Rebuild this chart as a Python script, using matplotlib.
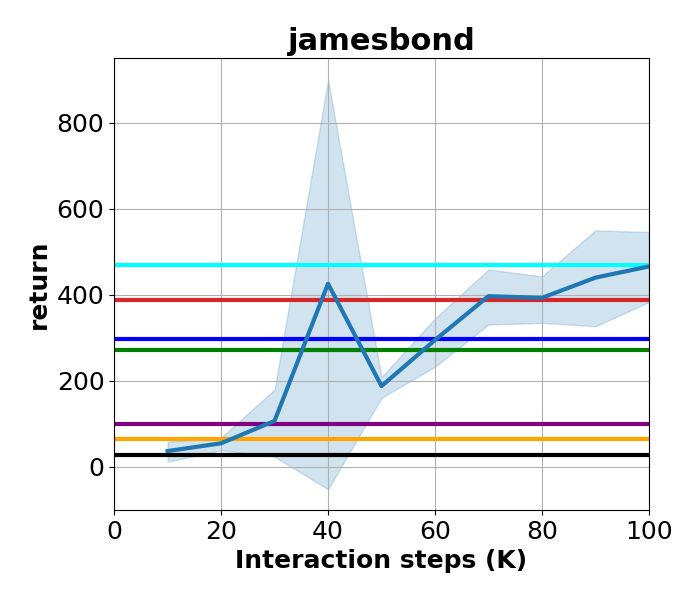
import numpy as np
import matplotlib
matplotlib.use("Agg")
import matplotlib.pyplot as plt

# Learning curve (mean and band)
steps = [10, 20, 30, 40, 50, 60, 70, 80, 90, 100]
mean_return = [37, 55, 107, 426, 188, 295, 397, 393, 440, 466]
lower_return = [12, 39, 24, -52, 161, 233, 331, 335, 327, 383]
upper_return = [59, 68, 180, 899, 209, 345, 459, 443, 550, 546]

# Baselines
baseline_values = [470, 389, 298, 271, 99, 64, 27]
baseline_colors = ["cyan", "tab:red", "blue", "green", "purple", "orange", "black"]

fig = plt.figure(figsize=(7, 6), dpi=100)
ax = fig.add_axes([0.163, 0.15, 0.764, 0.753])

for val, col in zip(baseline_values, baseline_colors):
    ax.axhline(val, color=col, linewidth=3)

ax.fill_between(steps, lower_return, upper_return, color="tab:blue", alpha=0.2)
ax.plot(steps, mean_return, color="tab:blue", linewidth=3)

ax.set_xlim(0, 100)
ax.set_ylim(-100, 950)
ax.set_yticks([0, 200, 400, 600, 800])
ax.grid(True)
ax.tick_params(labelsize=18)
ax.set_title("jamesbond", fontsize=22, fontweight="bold")
ax.set_xlabel("Interaction steps (K)", fontsize=18, fontweight="bold")
ax.set_ylabel("return", fontsize=18, fontweight="bold")

plt.savefig("out.png")
